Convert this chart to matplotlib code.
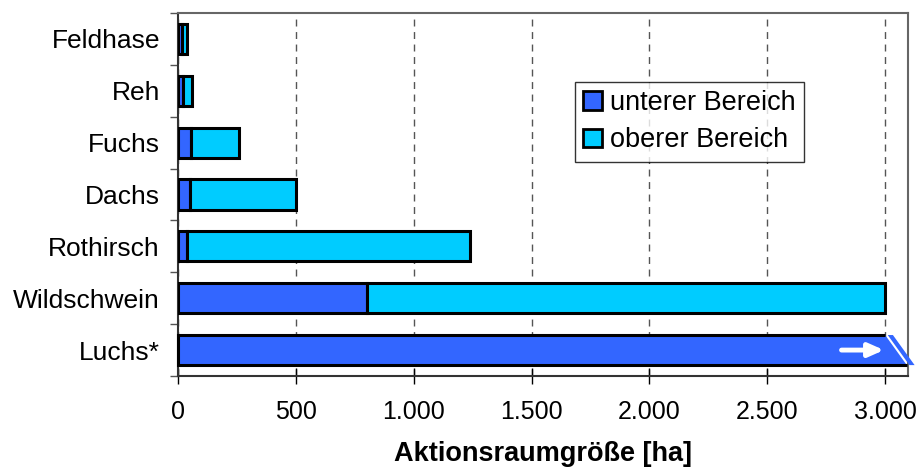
import matplotlib
matplotlib.use("Agg")
import matplotlib.pyplot as plt
from matplotlib.patches import Polygon, Patch
from matplotlib.ticker import FuncFormatter, FixedLocator

plt.rcParams['font.family'] = ['Liberation Sans', 'DejaVu Sans']

categories = ['Feldhase', 'Reh', 'Fuchs', 'Dachs', 'Rothirsch', 'Wildschwein', 'Luchs*']
lower = [15, 20, 57, 50, 40, 800, 3125]      # unterer Bereich (ha)
upper = [40, 60, 260, 500, 1240, 3000, 3125]  # oberer Bereich (ha)
xticks = [0, 500, 1000, 1500, 2000, 2500, 3000]
legend_labels = ['unterer Bereich', 'oberer Bereich']
xlabel = 'Aktionsraumgröße [ha]'

BLUE = '#3366FF'
CYAN = '#00CCFF'
XMAX = 3097
BREAK = 3000

fig = plt.figure(figsize=(9.16, 4.70), dpi=100)
ax = fig.add_axes([178/916, 94/470, 730/916, 363/470])

h = 0.58
ypos = list(range(len(categories)))

for i, (lo, up) in enumerate(zip(lower, upper)):
    if lo > BREAK:
        continue
    ax.barh(i, lo, height=h, color=BLUE, edgecolor='black', linewidth=2.2, zorder=3)
    if up > lo:
        ax.barh(i, up - lo, left=lo, height=h, color=CYAN, edgecolor='black', linewidth=2.2, zorder=3)

# broken bar (Luchs*)
for i, lo in enumerate(lower):
    if lo <= BREAK:
        continue
    top, bot = i - h/2, i + h/2
    slant = 92
    gap = 11
    body = Polygon([(0, top), (BREAK, top), (BREAK + slant, bot), (0, bot)],
                   closed=True, facecolor=BLUE, edgecolor='none', zorder=3, clip_on=False)
    ax.add_patch(body)
    sliver = Polygon([(BREAK + gap, top), (lo - slant, top), (lo, bot), (BREAK + slant + gap, bot)],
                     closed=True, facecolor=BLUE, edgecolor='none', zorder=3, clip_on=False)
    ax.add_patch(sliver)
    ax.plot([0, BREAK], [top, top], color='black', lw=2.2, zorder=4, clip_on=False, solid_capstyle='butt')
    ax.plot([0, BREAK + slant], [bot, bot], color='black', lw=2.2, zorder=4, clip_on=False, solid_capstyle='butt')
    ax.plot([0, 0], [top, bot], color='black', lw=2.2, zorder=4, clip_on=False)
    ax.annotate('', xy=(BREAK - 5, i), xytext=(BREAK - 185, i),
                arrowprops=dict(arrowstyle='-|>,head_length=0.9,head_width=0.4', color='white', lw=3.5,
                                shrinkA=0, shrinkB=0),
                zorder=5)

ax.set_xlim(0, XMAX)
ax.set_ylim(len(categories) - 0.5, -0.5)

ax.xaxis.set_major_locator(FixedLocator(xticks))
ax.xaxis.set_major_formatter(FuncFormatter(lambda v, p: f'{int(v):,}'.replace(',', '.')))
ax.set_yticks(ypos)
ax.set_yticklabels(categories)
ax.set_yticks([y - 0.5 for y in range(len(categories) + 1)], minor=True)
ax.tick_params(axis='y', which='major', length=0, pad=13, labelsize=19)
ax.tick_params(axis='y', which='minor', length=6, width=1, direction='out', color='#555555')
ax.tick_params(axis='x', which='major', direction='inout', length=11, width=1, pad=12, labelsize=18)

ax.grid(axis='x', which='major', linestyle=(0, (5, 4)), color='#555555', linewidth=1)
ax.set_axisbelow(True)

for s in ['top', 'right']:
    ax.spines[s].set_color('#666666')
    ax.spines[s].set_linewidth(1.5)
for s in ['left', 'bottom']:
    ax.spines[s].set_color('#333333')
    ax.spines[s].set_linewidth(1.5)

ax.set_xlabel(xlabel, fontsize=19.5, fontweight='bold', labelpad=12)

handles = [Patch(facecolor=BLUE, edgecolor='black', linewidth=2),
           Patch(facecolor=CYAN, edgecolor='black', linewidth=2)]
leg = ax.legend(handles, legend_labels, loc='upper left', bbox_to_anchor=(0.544, 0.81),
                fontsize=19.5, frameon=True, fancybox=False, edgecolor='black',
                handlelength=0.7, handleheight=0.7, handletextpad=0.3, borderpad=0.3,
                labelspacing=0.42, borderaxespad=0)
leg.get_frame().set_linewidth(1.0)
leg.set_zorder(6)

fig.savefig('out.png', dpi=100)
